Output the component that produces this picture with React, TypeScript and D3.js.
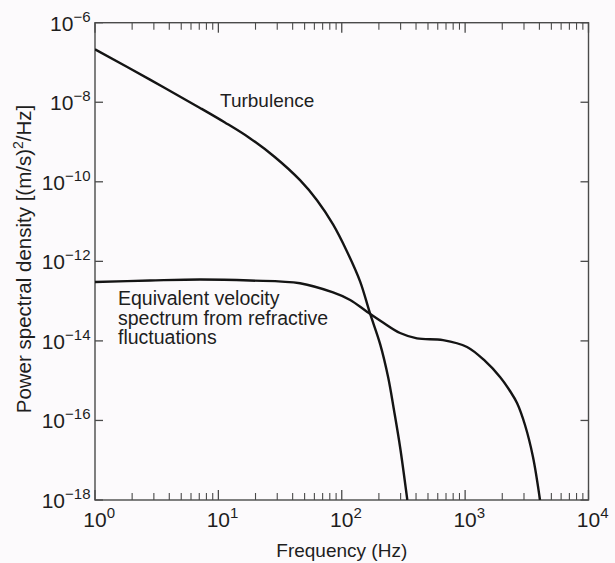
import React from "react";
import * as d3 from "d3";

// Turbulence velocity spectrum (Hz, (m/s)^2/Hz)
const turbFreq = [1, 2.79, 7.1, 11.3, 18, 28.8, 45.9, 63, 85, 110, 141, 169, 205, 238, 265, 297, 340];
const turbPsd = [
  2.14e-7, 3.7e-8, 7.2e-9, 3.1e-9, 1.25e-9, 4.15e-10, 1.1e-10, 3.45e-11, 8.5e-12, 1.8e-12,
  3.1e-13, 5.04e-14, 8.2e-15, 1.2e-15, 1.83e-16, 2.15e-17, 1e-18,
];

// Equivalent velocity spectrum from refractive fluctuations
const refrFreq = [
  1, 2.79, 7.1, 18, 45.9, 85, 117, 160, 216, 297, 407, 662, 1036, 1449, 1918, 2311, 2634, 3057, 3549,
  4046,
];
const refrPsd = [
  3.03e-13, 3.3e-13, 3.5e-13, 3.3e-13, 2.81e-13, 1.65e-13, 1.07e-13, 5.42e-14, 2.9e-14, 1.58e-14,
  1.16e-14, 1.05e-14, 7.03e-15, 3.13e-15, 1.24e-15, 5.5e-16, 2.75e-16, 7.69e-17, 1.21e-17, 1e-18,
];

const xDecades = [0, 1, 2, 3, 4];
const yExponents = [-6, -8, -10, -12, -14, -16, -18];

const W = 615;
const H = 563;
const left = 95;
const right = 588.5;
const top = 22.7;
const bottom = 500;

const FONT = "'Liberation Sans', Arial, Helvetica, sans-serif";
const INK = "#1e1e1e";
const AXIS = "#4a4a4a";

export default function App() {
  const x = d3.scaleLog().domain([1, 1e4]).range([left, right]);
  const y = d3.scaleLog().domain([1e-18, 1e-6]).range([bottom, top]);

  const line = d3
    .line<[number, number]>()
    .x((d) => x(d[0]))
    .y((d) => y(d[1]))
    .curve(d3.curveCatmullRom.alpha(0.5));

  const turb = line(turbFreq.map((f, i) => [f, turbPsd[i]]) as [number, number][]) || "";
  const refr = line(refrFreq.map((f, i) => [f, refrPsd[i]]) as [number, number][]) || "";

  const minorTicks: number[] = [];
  xDecades.slice(0, -1).forEach((e) => {
    for (let k = 2; k <= 9; k++) minorTicks.push(k * Math.pow(10, e));
  });

  return (
    <svg
      width={W}
      height={H}
      style={{ position: "absolute", left: 0, top: 0, background: "#fcfafc" }}
      fontFamily={FONT}
    >
      <defs>
        <clipPath id="plot-clip">
          <rect x={left} y={top} width={right - left} height={bottom - top} />
        </clipPath>
      </defs>

      {/* frame */}
      <rect x={left} y={top} width={right - left} height={bottom - top} fill="none" stroke={AXIS} strokeWidth={1.4} />

      {/* x ticks, inside, bottom and top */}
      {minorTicks.map((f) => (
        <g key={"m" + f} stroke={AXIS} strokeWidth={1.1}>
          <line x1={x(f)} x2={x(f)} y1={bottom} y2={bottom - 7} />
          <line x1={x(f)} x2={x(f)} y1={top} y2={top + 7} />
        </g>
      ))}
      {xDecades.map((e) => (
        <g key={"M" + e} stroke={AXIS} strokeWidth={1.3}>
          <line x1={x(Math.pow(10, e))} x2={x(Math.pow(10, e))} y1={bottom} y2={bottom - 10} />
          <line x1={x(Math.pow(10, e))} x2={x(Math.pow(10, e))} y1={top} y2={top + 10} />
        </g>
      ))}

      {/* y ticks, inside, left and right */}
      {yExponents.map((e) => (
        <g key={"y" + e} stroke={AXIS} strokeWidth={1.3}>
          <line x1={left} x2={left + 8} y1={y(Math.pow(10, e))} y2={y(Math.pow(10, e))} />
          <line x1={right} x2={right - 8} y1={y(Math.pow(10, e))} y2={y(Math.pow(10, e))} />
        </g>
      ))}

      {/* x tick labels */}
      {xDecades.map((e) => (
        <text key={"xl" + e} x={x(Math.pow(10, e)) - 11.7} y={527} fontSize={21} fill={INK}>
          10
          <tspan dy={-9} fontSize={15}>
            {String(e)}
          </tspan>
        </text>
      ))}

      {/* y tick labels */}
      {yExponents.map((e) => (
        <text key={"yl" + e} x={90.5} y={y(Math.pow(10, e)) + 8} fontSize={21} fill={INK} textAnchor="end">
          10
          <tspan dy={-9} fontSize={15}>
            {"\u2212" + String(-e)}
          </tspan>
        </text>
      ))}

      {/* curves */}
      <g clipPath="url(#plot-clip)" fill="none" stroke="#141414" strokeWidth={2.4} strokeLinejoin="round">
        <path d={turb} />
        <path d={refr} />
      </g>

      {/* curve annotations */}
      <text x={220} y={107} fontSize={19} fill={INK}>
        Turbulence
      </text>
      <text fontSize={19.5} fill={INK}>
        <tspan x={118} y={305}>Equivalent velocity</tspan>
        <tspan x={118} y={324.5}>spectrum from refractive</tspan>
        <tspan x={118} y={343.5}>fluctuations</tspan>
      </text>

      {/* axis titles */}
      <text x={(left + right) / 2} y={557} fontSize={19} fill={INK} textAnchor="middle">
        Frequency (Hz)
      </text>
      <text
        transform={`translate(31, 259) rotate(-90)`}
        fontSize={20.5}
        fill={INK}
        textAnchor="middle"
      >
        Power spectral density [(m/s)
        <tspan dy={-8} fontSize={14}>
          2
        </tspan>
        <tspan dy={8}>/Hz]</tspan>
      </text>
    </svg>
  );
}
